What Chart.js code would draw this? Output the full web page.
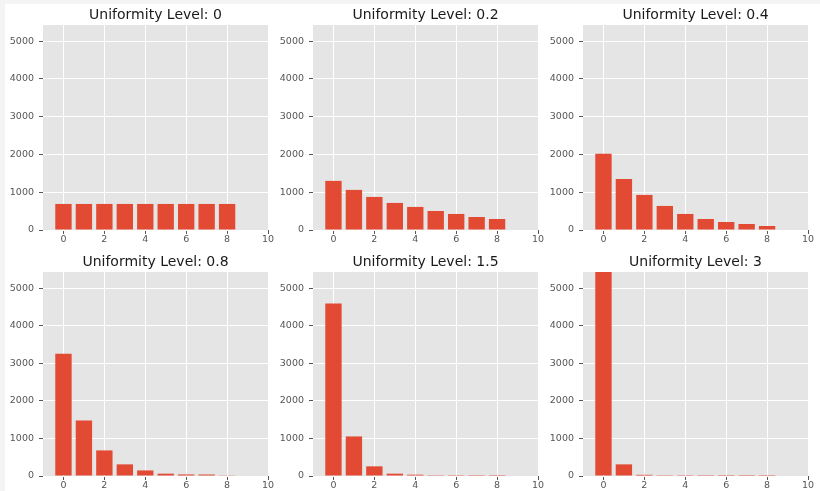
<!DOCTYPE html>
<html>
<head>
<meta charset="utf-8">
<script src="https://cdn.jsdelivr.net/npm/chart.js@4/dist/chart.umd.min.js"></script>
<style>
  html, body { margin: 0; padding: 0; width: 820px; height: 491px; overflow: hidden; background: #f4f4f4; }
  #sheet { position: absolute; left: 5px; top: 4px; width: 815px; height: 487px; background: #ffffff; }
  canvas { position: absolute; }
</style>
</head>
<body>
<div id="sheet"></div>
<script>
// Bin positions shared by every panel
const binCenters = [0, 1, 2, 3, 4, 5, 6, 7, 8];

// Uniformity levels, one panel each
const levelLabels = ['0', '0.2', '0.4', '0.8', '1.5', '3'];

// Counts per bin for each level
const countsLevel0  = [690, 690, 690, 690, 690, 690, 690, 690, 690];
const countsLevel02 = [1301, 1062, 876, 717, 611, 504, 425, 345, 292];
const countsLevel04 = [2018, 1354, 929, 637, 425, 292, 212, 159, 106];
const countsLevel08 = [3257, 1478, 681, 310, 148, 62, 42, 40, 8];
const countsLevel15 = [4593, 1053, 257, 62, 35, 5, 4, 3, 2];
const countsLevel3  = [5430, 310, 32, 5, 4, 3, 2, 2, 2];

// Axis ticks and shared limits
const xTickValues = [0, 2, 4, 6, 8, 10];
const yTickValues = [0, 1000, 2000, 3000, 4000, 5000];
const xLimits = [-1, 10];
const yLimits = [0, 5430];

const panelCounts = [countsLevel0, countsLevel02, countsLevel04, countsLevel08, countsLevel15, countsLevel3];

const FONT = 'DejaVu Sans';
const TICK_GREY = '#555555';
const BAR_RED = '#E24A33';

// Grey panel background behind the grid
const panelBackground = {
  id: 'panelBackground',
  beforeDraw(chart) {
    const a = chart.chartArea;
    const ctx = chart.ctx;
    ctx.save();
    ctx.fillStyle = '#E5E5E5';
    ctx.fillRect(a.left, a.top, a.right - a.left, a.bottom - a.top);
    ctx.restore();
  }
};

const sheet = document.body;

panelCounts.forEach((counts, i) => {
  const col = i % 3;
  const row = Math.floor(i / 3);
  const plotLeft = 43 + 270 * col;
  const plotTop = row === 0 ? 25 : 272;
  const plotW = 225;
  const plotH = row === 0 ? 205 : 204;

  const canvas = document.createElement('canvas');
  const cw = 43 + plotW + 10;
  const ch = 25 + plotH + 18;
  canvas.width = cw;
  canvas.height = ch;
  canvas.style.left = (plotLeft - 43) + 'px';
  canvas.style.top = (plotTop - 25) + 'px';
  canvas.style.width = cw + 'px';
  canvas.style.height = ch + 'px';
  sheet.appendChild(canvas);

  const gridOpts = {
    color: '#ffffff',
    lineWidth: 1,
    offset: false,
    drawTicks: true,
    tickLength: 4,
    tickColor: TICK_GREY,
    tickWidth: 1
  };

  new Chart(canvas.getContext('2d'), {
    type: 'bar',
    data: {
      datasets: [{
        data: binCenters.map((x, j) => ({ x: x, y: counts[j] })),
        backgroundColor: BAR_RED,
        borderWidth: 0,
        barPercentage: 0.8,
        categoryPercentage: 1.0
      }]
    },
    options: {
      responsive: false,
      animation: false,
      devicePixelRatio: 1,
      layout: { padding: { left: 0, right: 10, top: 0, bottom: 0 } },
      plugins: {
        legend: { display: false },
        tooltip: { enabled: false },
        title: {
          display: true,
          text: 'Uniformity Level: ' + levelLabels[i],
          fullSize: false,
          color: '#1a1a1a',
          font: { family: FONT, size: 14, weight: 'normal', lineHeight: 1.2 },
          padding: { top: 7, bottom: 1.2 }
        }
      },
      scales: {
        x: {
          type: 'linear',
          min: xLimits[0],
          max: xLimits[1],
          offset: false,
          grid: gridOpts,
          border: { display: false },
          ticks: {
            color: TICK_GREY,
            font: { family: FONT, size: 9.5 },
            padding: 0,
            maxRotation: 0,
            autoSkip: false,
            callback: v => String(v)
          },
          afterBuildTicks: s => { s.ticks = xTickValues.map(v => ({ value: v })); },
          afterFit: s => { s.height = 18; }
        },
        y: {
          type: 'linear',
          min: yLimits[0],
          max: yLimits[1],
          grid: gridOpts,
          border: { display: false },
          ticks: {
            color: TICK_GREY,
            font: { family: FONT, size: 9.5 },
            padding: 5,
            autoSkip: false,
            callback: v => String(v)
          },
          afterBuildTicks: s => { s.ticks = yTickValues.map(v => ({ value: v })); },
          afterFit: s => { s.width = 43; }
        }
      }
    },
    plugins: [panelBackground]
  });
});
</script>
</body>
</html>
